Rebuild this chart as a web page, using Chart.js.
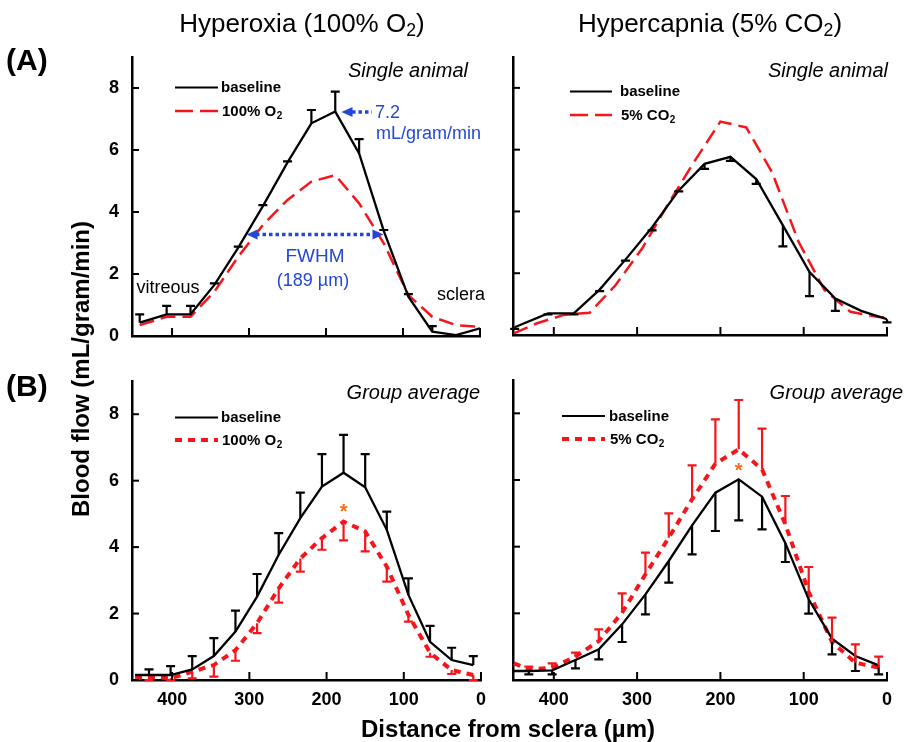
<!DOCTYPE html>
<html>
<head>
<meta charset="utf-8">
<script src="https://cdn.jsdelivr.net/npm/chart.js@4.4.1/dist/chart.umd.min.js"></script>
<style>
  body { margin: 0; background: #fff; }
  #wrap { position: relative; width: 907px; height: 742px; overflow: hidden; font-family: "Liberation Sans", Arial, sans-serif; color: #000; }
  #wrap canvas { position: absolute; left: 0; top: 0; }
  .t { position: absolute; white-space: nowrap; line-height: 1; }
  .t sub { font-size: 0.68em; vertical-align: -0.22em; line-height: 0; }
</style>
</head>
<body>
<div id="wrap">
  <canvas id="tl" width="907" height="742"></canvas>
  <canvas id="tr" width="907" height="742"></canvas>
  <canvas id="bl" width="907" height="742"></canvas>
  <canvas id="br" width="907" height="742"></canvas>
  <div class="t" style="left:302px;top:10px;font-size:26px;transform:translateX(-50%)">Hyperoxia (100% O<sub>2</sub>)</div>
  <div class="t" style="left:710px;top:10px;font-size:26px;transform:translateX(-50%)">Hypercapnia (5% CO<sub>2</sub>)</div>
  <div class="t" style="left:6px;top:45px;font-size:30px;font-weight:bold">(A)</div>
  <div class="t" style="left:6px;top:371px;font-size:30px;font-weight:bold">(B)</div>
  <div class="t" style="left:508px;top:717px;font-size:24px;font-weight:bold;transform:translateX(-50%)">Distance from sclera (µm)</div>
  <div class="t" style="left:81px;top:369px;font-size:24px;font-weight:bold;transform:translate(-50%,-50%) rotate(-90deg)">Blood flow (mL/gram/min)</div>
</div>
<script>
const FONT = '"Liberation Sans", Arial, sans-serif';
const RED = '#f5161b';
const BLUE = '#2347d6';
const ORANGE = '#ff6a1a';

const xTicks = [400, 300, 200, 100, 0];
const yTicks = [0, 2, 4, 6, 8];

// (A) single animal
const singleX = [442, 407, 376, 345, 314, 282, 250, 219, 188, 157, 125, 93, 62, 31, 0];
const o2SingleBase = [0.43, 0.70, 0.70, 1.65, 2.85, 4.19, 5.60, 6.86, 7.24, 5.89, 3.39, 1.27, 0.14, 0.03, 0.25];
const o2SingleBaseErr = [0.27, 0.27, 0.27, 0.05, 0.03, 0.03, 0.03, 0.43, 0.64, 0.46, 0.03, 0.08, 0.18, 0, 0];
const o2SingleGas = [0.35, 0.62, 0.62, 1.43, 2.56, 3.58, 4.39, 4.98, 5.19, 4.28, 2.99, 1.32, 0.62, 0.35, 0.30];
const co2SingleX = [447, 407, 376, 345, 314, 282, 250, 219, 188, 157, 125, 93, 62, 31, 0];
const co2SingleBase = [0.25, 0.70, 0.70, 1.47, 2.44, 3.49, 4.68, 5.54, 5.77, 5.05, 3.55, 2.04, 1.18, 0.78, 0.51];
const co2SingleBaseErr = [0.05, 0.03, 0.03, 0.05, 0.03, 0.10, 0.03, 0.16, 0.13, 0.16, 0.68, 0.78, 0.40, 0, 0.10];
const co2SingleGasX = [448, 420, 388, 357, 326, 294, 263, 232, 200, 169, 138, 106, 75, 44, 12, 0];
const co2SingleGas = [0.05, 0.38, 0.65, 0.72, 1.61, 2.80, 4.23, 5.59, 6.91, 6.72, 5.27, 3.01, 1.45, 0.75, 0.59, 0.56];

// (B) group average
const groupX = [448, 430, 402, 374, 346, 318, 290, 262, 234, 206, 178, 150, 122, 94, 66, 38, 10];
const o2GroupBase = [0.15, 0.15, 0.15, 0.32, 0.72, 1.46, 2.51, 3.77, 4.87, 5.82, 6.24, 5.80, 4.52, 2.56, 1.15, 0.60, 0.45];
const o2GroupBaseErr = [0, 0.17, 0.27, 0.40, 0.54, 0.63, 0.68, 0.65, 0.77, 0.98, 1.14, 1.00, 0.55, 0.50, 0.48, 0.37, 0.27];
const o2GroupGas = [0.05, 0.10, 0.05, 0.25, 0.45, 0.90, 1.71, 2.76, 3.66, 4.27, 4.77, 4.47, 3.41, 1.96, 0.82, 0.30, 0.15];
const o2GroupGasErr = [0, 0.10, 0.05, 0.20, 0.35, 0.32, 0.30, 0.43, 0.40, 0.35, 0.57, 0.60, 0.45, 0.20, 0.12, 0.12, 0.15];
const co2GroupBase = [0.27, 0.27, 0.29, 0.60, 0.92, 1.67, 2.57, 3.57, 4.64, 5.62, 6.02, 5.50, 4.10, 2.42, 1.24, 0.72, 0.44];
const co2GroupBaseErr = [0, 0.10, 0.12, 0.25, 0.30, 0.53, 0.60, 0.65, 0.87, 1.15, 1.23, 0.98, 0.56, 0.43, 0.47, 0.45, 0.27];
const co2GroupGas = [0.50, 0.32, 0.37, 0.70, 1.17, 2.02, 3.17, 4.27, 5.42, 6.49, 6.92, 6.32, 4.67, 2.64, 1.14, 0.52, 0.37];
const co2GroupGasErr = [0, 0.08, 0.13, 0.12, 0.35, 0.58, 0.65, 0.73, 1.02, 1.33, 1.48, 1.22, 0.85, 0.75, 0.73, 0.55, 0.33];
const starX = 178;
const starO2 = 5.2;
const starCO2 = 6.43;

const pts = (xs, ys) => xs.map((x, i) => ({ x, y: ys[i] }));

const errorBars = {
    id: 'errorBars',
    afterDatasetsDraw(chart) {
        const { ctx, scales: { y } } = chart;
        chart.data.datasets.forEach((ds, i) => {
            if (!ds.err) return;
            ctx.save();
            ctx.strokeStyle = ds.borderColor;
            ctx.lineWidth = 2.2;
            ctx.setLineDash([]);
            chart.getDatasetMeta(i).data.forEach((pt, j) => {
                const e = ds.err[j];
                if (!e) return;
                const yEnd = y.getPixelForValue(ds.data[j].y + ds.errDir * e);
                ctx.beginPath();
                ctx.moveTo(pt.x, pt.y); ctx.lineTo(pt.x, yEnd);
                ctx.moveTo(pt.x - 4.5, yEnd); ctx.lineTo(pt.x + 4.5, yEnd);
                ctx.stroke();
            });
            ctx.restore();
        });
    }
};

// tick marks pointing into the plot
const innerTicks = {
    id: 'innerTicks',
    afterDraw(chart) {
        const { ctx, scales: { x, y } } = chart;
        ctx.save();
        ctx.strokeStyle = '#000';
        ctx.lineWidth = 2;
        x.ticks.forEach(t => {
            const px = x.getPixelForValue(t.value);
            ctx.beginPath(); ctx.moveTo(px, y.bottom); ctx.lineTo(px, y.bottom - 8); ctx.stroke();
        });
        y.ticks.forEach(t => {
            const py = y.getPixelForValue(t.value);
            ctx.beginPath(); ctx.moveTo(x.left, py); ctx.lineTo(x.left + 7, py); ctx.stroke();
        });
        ctx.restore();
    }
};

function subText(ctx, main, sub, x, y, size) {
    ctx.font = `bold ${size}px ${FONT}`;
    ctx.fillText(main, x, y);
    const w = ctx.measureText(main).width;
    ctx.font = `bold ${Math.round(size * 0.68)}px ${FONT}`;
    ctx.fillText(sub, x + w + 0.5, y + size * 0.3);
}

function legend(ctx, l) {
    ctx.save();
    ctx.lineWidth = 2.2;
    ctx.strokeStyle = '#000';
    ctx.beginPath(); ctx.moveTo(l.x1, l.y1); ctx.lineTo(l.x2, l.y1); ctx.stroke();
    ctx.strokeStyle = RED;
    ctx.lineWidth = l.width;
    ctx.setLineDash(l.dash);
    ctx.beginPath(); ctx.moveTo(l.x1, l.y2); ctx.lineTo(l.x2, l.y2); ctx.stroke();
    ctx.fillStyle = '#000';
    ctx.textBaseline = 'middle';
    ctx.textAlign = 'left';
    ctx.font = `bold 15px ${FONT}`;
    ctx.fillText('baseline', l.tx, l.y1 + 0.5);
    subText(ctx, l.gas, '2', l.tx + 1, l.y2 + 0.5, 15);
    ctx.restore();
}

function italic(ctx, text, right, base) {
    ctx.save();
    ctx.font = `italic 20px ${FONT}`;
    ctx.textAlign = 'right';
    ctx.textBaseline = 'alphabetic';
    ctx.fillStyle = '#000';
    ctx.fillText(text, right, base);
    ctx.restore();
}

function dotted(ctx, x1, x2, y) {
    ctx.save();
    ctx.strokeStyle = BLUE;
    ctx.lineWidth = 3.5;
    ctx.setLineDash([3.5, 3]);
    ctx.beginPath(); ctx.moveTo(x1, y); ctx.lineTo(x2, y); ctx.stroke();
    ctx.restore();
}

function head(ctx, x, y, dir) {
    ctx.save();
    ctx.fillStyle = BLUE;
    ctx.beginPath();
    ctx.moveTo(x, y); ctx.lineTo(x - dir * 11, y - 5); ctx.lineTo(x - dir * 11, y + 5);
    ctx.closePath(); ctx.fill();
    ctx.restore();
}

function star(chart, value) {
    const { ctx, scales: { x, y } } = chart;
    ctx.save();
    ctx.fillStyle = ORANGE;
    ctx.font = `bold 20px ${FONT}`;
    ctx.textAlign = 'center';
    ctx.textBaseline = 'alphabetic';
    ctx.fillText('*', x.getPixelForValue(starX), y.getPixelForValue(value) + 11);
    ctx.restore();
}

const decor = {
    tl(chart) {
        const ctx = chart.ctx;
        italic(ctx, 'Single animal', 468, 77);
        legend(ctx, { x1: 175, x2: 218, y1: 87.5, y2: 111, tx: 221, gas: '100% O', dash: [18, 7], width: 2.5 });
        ctx.save();
        ctx.fillStyle = BLUE;
        ctx.font = `18px ${FONT}`;
        ctx.textBaseline = 'alphabetic';
        ctx.fillText('7.2', 375, 118);
        ctx.fillText('mL/gram/min', 376, 138.5);
        ctx.textAlign = 'center';
        ctx.font = `19px ${FONT}`;
        ctx.fillText('FWHM', 315, 261.5);
        ctx.font = `18px ${FONT}`;
        ctx.fillText('(189 µm)', 313, 286);
        ctx.fillStyle = '#000';
        ctx.fillText('vitreous', 168, 293);
        ctx.fillText('sclera', 461, 300);
        ctx.restore();
        dotted(ctx, 352, 372, 112);
        head(ctx, 341.5, 112, -1);
        dotted(ctx, 256, 374, 234.5);
        head(ctx, 246.5, 234.5, -1);
        head(ctx, 383.5, 234.5, 1);
    },
    tr(chart) {
        italic(chart.ctx, 'Single animal', 888, 77);
        legend(chart.ctx, { x1: 570, x2: 612, y1: 91.5, y2: 115, tx: 620, gas: '5% CO', dash: [18, 7], width: 2.5 });
    },
    bl(chart) {
        italic(chart.ctx, 'Group average', 480, 399);
        legend(chart.ctx, { x1: 175, x2: 218, y1: 417.5, y2: 440, tx: 221, gas: '100% O', dash: [7, 6], width: 4 });
        star(chart, starO2);
    },
    br(chart) {
        italic(chart.ctx, 'Group average', 903, 399);
        legend(chart.ctx, { x1: 562, x2: 605, y1: 416, y2: 439, tx: 609, gas: '5% CO', dash: [7, 6], width: 4 });
        star(chart, starCO2);
    }
};

function series(data, color, dash, width, err, errDir) {
    return {
        data, borderColor: color, borderWidth: width, borderDash: dash,
        pointRadius: 0, tension: 0, fill: false, err, errDir
    };
}

function panel(id, area, showX, showY, datasets) {
    const tickFont = { family: FONT, size: 18, weight: 'bold' };
    new Chart(document.getElementById(id), {
        type: 'line',
        data: { datasets },
        options: {
            responsive: false,
            animation: false,
            events: [],
            layout: { padding: { left: area.left - 40, right: 907 - area.right, top: area.top, bottom: 742 - area.bottom - 30 } },
            plugins: { legend: { display: false }, tooltip: { enabled: false } },
            scales: {
                x: {
                    type: 'linear', reverse: true, min: 0, max: area.xmax,
                    afterBuildTicks: s => { s.ticks = xTicks.map(v => ({ value: v })); },
                    afterFit: s => { s.height = 30; s.paddingLeft = s.paddingRight = 0; },
                    grid: { display: false, drawTicks: false },
                    border: { display: true, color: '#000', width: 2.5 },
                    ticks: { display: showX, padding: 9, color: '#000', font: tickFont, maxRotation: 0, autoSkip: false }
                },
                y: {
                    type: 'linear', min: 0, max: 9,
                    afterBuildTicks: s => { s.ticks = yTicks.map(v => ({ value: v })); },
                    afterFit: s => { s.width = 40; s.paddingTop = s.paddingBottom = 0; },
                    grid: { display: false, drawTicks: false },
                    border: { display: true, color: '#000', width: 2.5 },
                    ticks: { display: showY, padding: 13, color: '#000', font: tickFont, autoSkip: false }
                }
            }
        },
        plugins: [errorBars, innerTicks, { id: 'decor', afterDraw: decor[id] }]
    });
}

panel('tl', { left: 132, right: 480, top: 57, bottom: 336, xmax: 452 }, false, true, [
    series(pts(singleX, o2SingleBase), '#000', [], 2.3, o2SingleBaseErr, 1),
    series(pts(singleX, o2SingleGas), RED, [15, 7], 2.5)
]);
panel('tr', { left: 513, right: 887, top: 57, bottom: 335, xmax: 449 }, false, false, [
    series(pts(co2SingleX, co2SingleBase), '#000', [], 2.3, co2SingleBaseErr, -1),
    series(pts(co2SingleGasX, co2SingleGas), RED, [15, 7], 2.5)
]);
panel('bl', { left: 132, right: 481, top: 381, bottom: 680, xmax: 452 }, true, true, [
    series(pts(groupX, o2GroupBase), '#000', [], 2.3, o2GroupBaseErr, 1),
    series(pts(groupX, o2GroupGas), RED, [7, 6], 4, o2GroupGasErr, -1)
]);
panel('br', { left: 513, right: 887, top: 380, bottom: 680, xmax: 449 }, true, false, [
    series(pts(groupX, co2GroupBase), '#000', [], 2.3, co2GroupBaseErr, -1),
    series(pts(groupX, co2GroupGas), RED, [7, 6], 4, co2GroupGasErr, 1)
]);
</script>
</body>
</html>
